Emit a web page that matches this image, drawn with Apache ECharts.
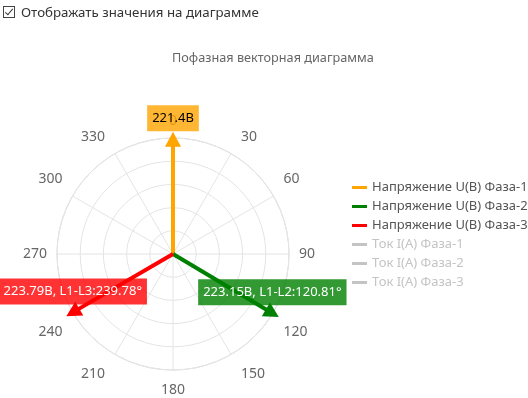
<!DOCTYPE html>
<html>
<head>
<meta charset="utf-8">
<script src="https://cdn.jsdelivr.net/npm/echarts@6/dist/echarts.min.js"></script>
<style>
  html, body { margin: 0; padding: 0; background: #fff; }
  #chart { position: absolute; left: 0; top: 0; width: 528px; height: 398px; }
  #cb { position: absolute; left: 3px; top: 3px; font-family: "Noto Sans", sans-serif; font-size: 13.3px; color: #333; white-space: nowrap; z-index: 2; }
  #cb .box { display: inline-block; width: 10px; height: 10px; border: 1px solid #444; vertical-align: -1px; margin-right: 6px; position: relative; }
  #cb .box::after { content: ""; position: absolute; left: 3px; top: 0px; width: 3px; height: 7px; border: solid #333; border-width: 0 1.5px 1.5px 0; transform: rotate(40deg); }
</style>
</head>
<body>
<div id="cb"><span class="box"></span>Отображать значения на диаграмме</div>
<div id="chart"></div>
<script>
// ---- data ----
var voltageNames = ['Напряжение U(В) Фаза-1', 'Напряжение U(В) Фаза-2', 'Напряжение U(В) Фаза-3'];
var currentNames = ['Ток I(A) Фаза-1', 'Ток I(A) Фаза-2', 'Ток I(A) Фаза-3'];
var voltageValues = [221.4, 223.15, 223.79];
var voltageAngles = [0, 120.81, 239.78];
var angleLabels = [0, 30, 60, 90, 120, 150, 180, 210, 240, 270, 300, 330];
var currentValues = [[], [], []];

var colors = ['#FFA500', '#008000', '#FF0000'];
var labelBg = ['rgba(255,165,0,0.8)', 'rgba(0,128,0,0.8)', 'rgba(255,0,0,0.8)'];
var labelColor = ['#000', '#fff', '#fff'];
var pairNames = ['', 'L1-L2', 'L1-L3'];

var maxV = Math.max.apply(null, voltageValues);

var series = [];
voltageNames.forEach(function (name, i) {
  var text = voltageValues[i] + 'В' + (i > 0 ? ', ' + pairNames[i] + ':' + voltageAngles[i] + '°' : '');
  series.push({
    name: name,
    type: 'line',
    coordinateSystem: 'polar',
    symbol: 'none',
    clip: false,
    z: 3,
    color: colors[i],
    lineStyle: { color: colors[i], width: 4 },
    animation: false,
    data: [
      { value: [0, voltageAngles[i]], symbol: 'none' },
      {
        value: [voltageValues[i], voltageAngles[i]],
        symbol: 'triangle',
        symbolSize: [16, 15],
        symbolRotate: -voltageAngles[i],
        itemStyle: { color: colors[i] },
        label: {
          show: true,
          position: 'inside',
          offset: [0, -21],
          formatter: text,
          backgroundColor: labelBg[i],
          color: labelColor[i],
          fontFamily: 'Noto Sans',
          fontSize: 13,
          lineHeight: 14,
          padding: [6, 5, 6, 5]
        }
      }
    ]
  });
});
currentNames.forEach(function (name, i) {
  series.push({
    name: name,
    type: 'line',
    coordinateSystem: 'polar',
    symbol: 'none',
    color: '#999',
    lineStyle: { width: 4 },
    data: currentValues[i]
  });
});

var selected = {};
currentNames.forEach(function (n) { selected[n] = false; });

var chart = echarts.init(document.getElementById('chart'));
chart.setOption({
  animation: false,
  title: {
    text: 'Пофазная векторная диаграмма',
    left: 172,
    top: 52,
    padding: 0,
    textStyle: { fontFamily: 'Noto Sans', fontSize: 12.7, fontWeight: 'normal', color: '#666' }
  },
  legend: {
    orient: 'vertical',
    left: 347,
    top: 176,
    itemGap: 6,
    itemWidth: 15,
    itemHeight: 14,
    icon: 'path://M0,0L15,0L15,3L0,3Z',
    symbolKeepAspect: true,
    data: voltageNames.concat(currentNames),
    selected: selected,
    textStyle: { fontFamily: 'Noto Sans', fontSize: 13, color: '#555' },
    inactiveColor: '#c4c4c4'
  },
  polar: { center: [173, 254], radius: 116 },
  angleAxis: {
    type: 'value',
    min: 0,
    max: 360,
    interval: 30,
    startAngle: 90,
    clockwise: true,
    axisLine: { lineStyle: { color: '#e4e4e4' } },
    axisTick: { show: false },
    axisLabel: {
      color: '#666', fontFamily: 'Noto Sans', fontSize: 14, lineHeight: 14, margin: 0,
      padding: [13, 10, 10, 10],
      formatter: function (v) { return angleLabels.indexOf(v) >= 0 ? String(v) : ''; }
    },
    splitLine: { show: true, lineStyle: { color: '#e4e4e4' } }
  },
  radiusAxis: {
    type: 'value',
    min: 0,
    max: maxV,
    interval: maxV / 5,
    axisLine: { show: false },
    axisTick: { show: false },
    axisLabel: { show: false },
    splitLine: { show: true, lineStyle: { color: '#e4e4e4' } }
  },
  series: series
});
</script>
</body>
</html>
